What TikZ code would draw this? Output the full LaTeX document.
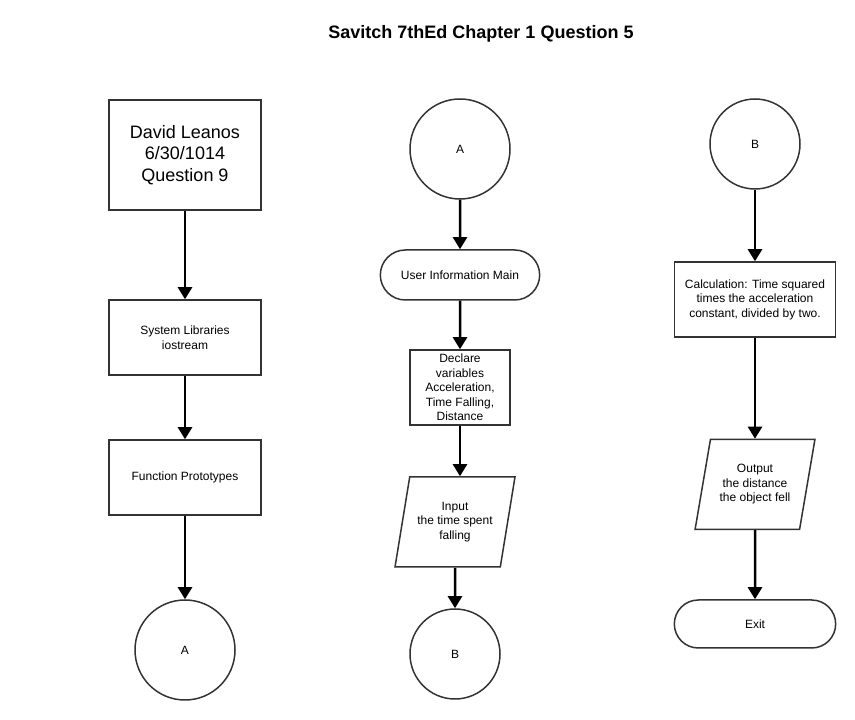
\documentclass[tikz,border=0pt]{standalone}
\usepackage{fontspec}
\setmainfont{Liberation Sans}
\usepackage{tikz}
\usetikzlibrary{arrows.meta}
\usetikzlibrary{shapes.geometric,shapes.misc}
\definecolor{ln}{rgb}{0.2,0.2,0.2}
\tikzstyle{box}=[draw=ln,line width=1.5pt,rectangle,align=center,font=\fontsize{12}{14.5}\selectfont]
\tikzstyle{term}=[box,rounded rectangle,minimum width=166pt,minimum height=50pt]
\tikzstyle{con}=[box,circle,inner sep=0pt]
\tikzstyle{io}=[box,trapezium,trapezium left angle=74,trapezium right angle=106,trapezium stretches=true,minimum width=120pt,minimum height=90pt]
\tikzstyle{flow}=[line width=2.5pt]

\begin{document}
\begin{tikzpicture}[->,>={Triangle[width=14pt,length=12pt]},x=1pt,y=1pt]
	\useasboundingbox (0,0) rectangle (855,720);
	\node[font=\bfseries\fontsize{18}{21}\selectfont] (ttl) at (481,686) {Savitch 7thEd Chapter 1 Question 5};
	% first column
	\node[box,minimum width=152pt,minimum height=110pt,font=\fontsize{18}{21.5}\selectfont] (hdr) at (185,565) {David Leanos\\6/30/1014\\Question 9};
	\node[box,minimum width=152pt,minimum height=75pt] (lib) [below of=hdr,node distance=182.5pt] {System Libraries\\iostream};
	\node[box,minimum width=152pt,minimum height=75pt] (pro) [below of=lib,node distance=140pt] {Function Prototypes};
	\node[con,minimum size=100pt] (offA) [below of=pro,node distance=172.5pt] {A};
	% second column
	\node[con,minimum size=100pt] (onA) at (460,571) {A};
	\node[term] (usr) [below of=onA,node distance=126pt] {User Information Main};
	\node[box,minimum width=100pt,minimum height=75pt] (dec) [below of=usr,node distance=112.5pt] {Declare\\variables\\Acceleration,\\Time Falling,\\Distance};
	\node[io] (inp) [below of=dec,node distance=134.5pt,xshift=-5pt] {Input\\the time spent\\falling};
	\node[con,minimum size=90pt] (offB) [below of=inp,node distance=132pt] {B};
	% third column
	\node[con,minimum size=90pt] (onB) at (755,576) {B};
	\node[box,minimum width=161pt,minimum height=75pt] (calc) [below of=onB,node distance=155.5pt] {Calculation: Time squared\\times the acceleration\\constant, divided by two.};
	\node[io] (out) [below of=calc,node distance=185pt] {Output\\the distance\\the object fell};
	\node[term,minimum width=168pt,minimum height=48pt] (ex) [below of=out,node distance=139.5pt] {Exit};
	\path
		(hdr)		edge[flow]	(lib)
		(lib)		edge[flow]	(pro)
		(pro)		edge[flow]	(offA)
		(onA)		edge[flow]	(usr)
		(usr)		edge[flow]	(dec)
		(dec.south)	edge[flow]	(dec.south |- inp.north)
		(inp)		edge[flow]	(offB)
		(onB)		edge[flow]	(calc)
		(calc)		edge[flow]	(out)
		(out)		edge[flow]	(ex);
\end{tikzpicture}
\end{document}
